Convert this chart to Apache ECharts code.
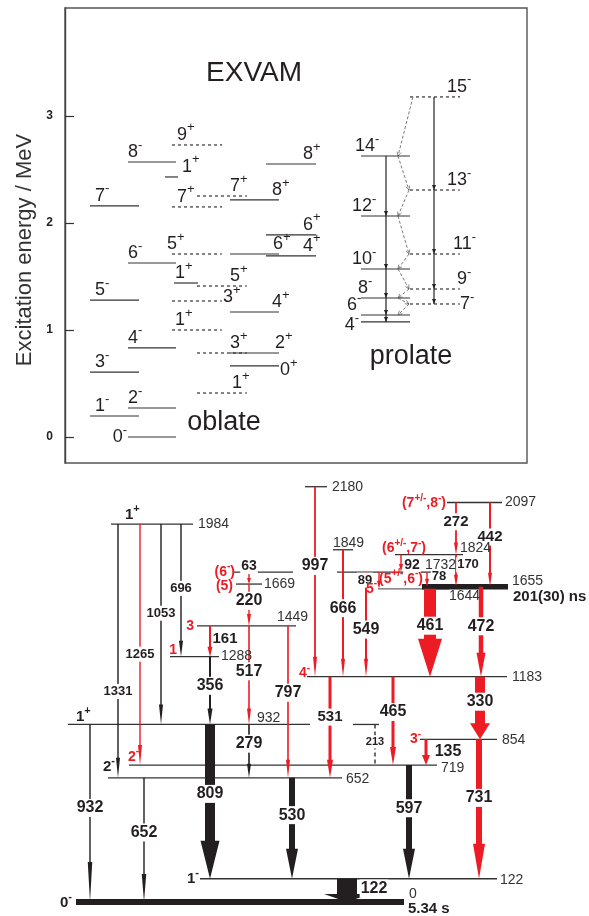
<!DOCTYPE html>
<html><head><meta charset="utf-8">
<script src="https://cdn.jsdelivr.net/npm/echarts@6/dist/echarts.min.js"></script>
<style>html,body{margin:0;padding:0;background:#fff}#c{width:589px;height:916px}</style>
</head><body><div id="c"></div>
<script>
// ================= DATA : top panel (EXVAM calculation, MeV) =================
const energyTicks = [0, 1, 2, 3];
const oblNegOddSpin = ['1-','3-','5-','7-'];
const oblNegOddE = [0.196, 0.607, 1.280, 2.159];
const oblNegEvenSpin = ['0-','2-','4-','6-','8-'];
const oblNegEvenE = [0.000, 0.271, 0.832, 1.626, 2.570];
const oblPosOddASpin = ['1+','3+','5+','7+','9+'];
const oblPosOddAE = [1.000, 1.271, 1.710, 2.150, 2.729];
const oblPosExtraSpin = ['1+','1+'];
const oblPosExtraE = [1.439, 2.430];
const oblPosOddBSpin = ['1+','3+','5+','7+'];
const oblPosOddBE = [0.411, 0.785, 1.411, 2.252];
const oblPosEvenASpin = ['0+','2+','4+','6+','8+'];
const oblPosEvenAE = [0.664, 0.785, 1.168, 1.710, 2.215];
const oblPosEvenBSpin = ['4+','6+','8+'];
const oblPosEvenBE = [1.692, 1.888, 2.551];
const proEvenSpin = ['4-','6-','8-','10-','12-','14-'];
const proEvenE = [1.075, 1.140, 1.299, 1.570, 2.065, 2.626];
const proOddSpin = ['7-','9-','11-','13-','15-'];
const proOddE = [1.243, 1.383, 1.710, 2.308, 3.178];
const proM1Cascade = ['15-','14-','13-','12-','11-','10-','9-','8-','7-','6-'];
const topTexts = ['EXVAM', 'oblate', 'prolate'];
const yAxisTitle = 'Excitation energy / MeV';

// ================= DATA : bottom panel (level scheme, keV) =================
const levelE = [0,122,652,719,854,932,1183,1288,1449,1644,1655,1669,1732,1824,1849,1984,2097,2180];
const levelSpin = ['0-','1-','2-','2-','3-','1+','4-','1','3','5-','(5+/-,6-)','(5)','(6-)','(6+/-,7-)','','1+','(7+/-,8-)',''];
const levelSpinNew = [0,0,0,1,1,0,1,1,1,1,1,1,1,1,0,0,1,0];
const levelHalfLife = ['5.34 s','','','','','','','','','','201(30) ns','','','','','','',''];
const gammaE    = [932,652,1331,1265,1053,696,161,356,809,63,220,517,279,797,530,997,666,549,89,92,78,272,170,442,461,472,531,213,465,135,330,597,731,122];
const gammaFrom = [932,652,1984,1984,1984,1984,1449,1288,932,1732,1669,1449,932,1449,652,2180,1849,1732,1732,1824,1732,2097,1824,2097,1644,1655,1183,932,1183,854,1183,719,854,122];
const gammaTo   = [0,0,652,719,932,1288,1288,932,122,1669,1449,932,652,652,122,1183,1183,1183,1644,1732,1655,1824,1655,1655,1183,1183,652,719,719,719,854,122,122,0];
const gammaNew  = [0,0,0,1,0,0,1,0,0,1,1,1,0,1,0,1,1,1,1,1,1,1,1,1,1,1,1,0,1,1,1,0,1,0];

// ================= LAYOUT / STYLE (not data) =================
const RED = '#ed1c24', BLK = '#231f20';
const FONT = '"Liberation Sans", Arial, Helvetica, sans-serif';

const L = {
  oblNegOdd:  {x:[90,139],  dash:false, lab:[['a',95],['a',95],['a',95],['a',95]]},
  oblNegEven: {x:[128,176], dash:false, lab:[['l',127,0],['a',128],['a',128],['a',128],['a',128]]},
  oblPosOddA: {x:[172,222], dash:true,  lab:[['a',175],['r',223,-4],['a',167],['a',177],['a',177]]},
  oblPosExtra:{xs:[[174,198],[165,178]], dash:false, lab:[['a',175],['a',182]]},
  oblPosOddB: {x:[197,247], dash:true,  lab:[['a',232],['a',230],['a',230],['a',230]]},
  oblPosEvenA:{x:[230,279], dash:false, lab:[['r',280,4],['a',275],['a',272],['a',273],['a',272]]},
  oblPosEvenB:{x:[266,316], dash:false, lab:[['a',303],['a',303],['a',303]]},
  proEven:    {x:[361,410], dash:false, lab:[['l',359,3],['a',347],['a',358],['a',352],['a',352],['a',355]]},
  proOdd:     {x:[410,460], dash:true,  lab:[['r',460,0],['a',457],['a',453],['a',447],['a',447]]}
};
const bands = [
  [oblNegOddSpin, oblNegOddE, L.oblNegOdd],
  [oblNegEvenSpin, oblNegEvenE, L.oblNegEven],
  [oblPosOddASpin, oblPosOddAE, L.oblPosOddA],
  [oblPosExtraSpin, oblPosExtraE, L.oblPosExtra],
  [oblPosOddBSpin, oblPosOddBE, L.oblPosOddB],
  [oblPosEvenASpin, oblPosEvenAE, L.oblPosEvenA],
  [oblPosEvenBSpin, oblPosEvenBE, L.oblPosEvenB],
  [proEvenSpin, proEvenE, L.proEven],
  [proOddSpin, proOddE, L.proOdd]
];
const topLevels = [];
bands.forEach(([sp, en, lay]) => sp.forEach((s, i) => {
  const xr = lay.xs ? lay.xs[i] : lay.x;
  const lb = lay.lab[i];
  topLevels.push({spin:s, E:en[i], x1:xr[0], x2:xr[1], dash:lay.dash, mode:lb[0], lx:lb[1], dy:lb[2]||0});
}));
const proEvenX = 386, proOddX = 434, m1X = {odd:409, even:398, first:413};
const topTextLayout = [[254, 3.40, 28], [224, 0.134, 27], [411, 0.751, 27]];

const levelSegs = [[[76,404]],[[200,497]],[[108,342]],[[129,437]],[[420,497]],[[68,310],[353,379]],[[307,507]],[[170,219]],[[197,296]],[[378,449]],[[422,508]],[[236,262]],[[234,293],[337,442]],[[395,463]],[[333,353]],[[111,193]],[[447,502]],[[305,327]]];
const levelLW = [6,1.3,1.3,1.3,1.3,1.3,1.3,1.3,1.3,1.2,5.5,1.3,1.3,1.3,1.3,1.3,1.3,1.3];
const levelCol = ['#231f20','#333','#333','#333','#333','#333','#333','#333','#333','#666','#231f20','#333','#333','#333','#333','#333','#333','#333'];
const levelLab = [[409,-8],[500,1],[346,1],[441,3],[502,1],[257,-6],[512,1],[221,0],[277,-9],[449,7],[512,-6],[264,0],[425,-7],[460,-6],[333,-7],[198,0],[505,0],[332,0]];
const spinLab = [['right',72,1],['right',199,0],['right',115,-11],['right',139,-8],['right',421,0],['left',76,-8],['right',310,-3],['right',177,-6],['right',194,0],['right',377,0],['center',401,-8],['right',233,2],['right',235,0],['center',404,-6],null,['left',125,-9],['right',446,1],null];
const halfLab = [[408,7],null,null,null,null,null,null,null,null,null,[513,10],null,null,null,null,null,null,null];

const gL = [
 [90,1.4,4.5,40,0.47,16,0],[144,1.4,4.5,28,0.44,16,0],[118,1.4,4,20,0.66,13,0],[140,1.4,4,20,0.54,13,0],
 [161,1.4,4,20,0.445,13,0],[181,1.4,4,16,0.485,13,0],[210,2,5,10,0.41,15,15],[210,2,5,16,0.43,16,0],
 [210,10,19,38,0.45,16,0],[249,1.4,4,6,-0.5,14,0],[249,1.4,4,12,0.40,16,0],[249,1.6,4,16,0.46,16,0],
 [249,1.6,4,14,0.36,16,0],[288,1.6,4,18,0.44,16,0],[292,6,12,30,0.37,16,0],[315,1.8,4,20,0.417,16,0],
 [343,2,4,18,0.46,16,0],[366,2,4,18,0.55,16,0],[379,1.4,4,8,0.48,13,-14],[401,1.4,4,8,0.6,14,11],
 [427,1.4,4,8,0.3,13,12],[456,1.8,4,12,0.37,15,0],[456,1.8,4,12,0.32,13,12],[490,2,4,14,0.41,15,0],
 [430,12,24,38,0.42,16,0],[481,4.5,9,24,0.44,16,0],[330,3,6,18,0.40,15,0],[375,1.3,0,0,0.43,11,0,true],
 [393,3,6,18,0.40,16,0],[426,3,8,10,0.46,16,22],[480,10,20,16,0.40,16,0],[409,6,12,30,0.38,16,0],
 [479,6,12,35,0.42,16,0],[347,20,46,8,0.42,16,27]
];

// ---------- spin label helper: normal text + raised superscript parity ----------
const mctx = document.createElement('canvas').getContext('2d');
function tw(text, size, weight) { mctx.font = weight + ' ' + size + 'px ' + FONT; return mctx.measureText(text).width; }
function spinTexts(str, x, yc, align, size, sup, weight, color) {
  const parts = str.split(/(\+\/-|\+|-)/);
  const toks = []; let total = 0;
  parts.forEach((p, i) => {
    if (!p) return;
    const isSup = i % 2 === 1, fs = isSup ? sup : size, w = tw(p, fs, weight);
    toks.push({p, isSup, fs, w}); total += w;
  });
  let cx = align === 'left' ? x : align === 'right' ? x - total : x - total / 2;
  return toks.map(t => {
    const el = {type:'text', style:{text:t.p, x:cx, y: t.isSup ? yc - 0.38 * size : yc, align:'left', verticalAlign:'middle',
      fontSize:t.fs, fontWeight:weight, fontFamily:FONT, fill:color}};
    cx += t.w; return el;
  });
}

function rTopLevel(params, api) {
  const l = topLevels[params.dataIndex];
  const a = api.coord([l.x1, l.E]), b = api.coord([l.x2, l.E]);
  const lp = api.coord([l.lx, l.E]);
  const size = 18;
  let yc = lp[1] + l.dy, align = 'left';
  if (l.mode === 'a') yc = lp[1] - 4 - 0.345 * size + l.dy;
  else if (l.mode === 'l') align = 'right';
  return {type:'group', children:[
    {type:'line', shape:{x1:a[0], y1:a[1], x2:b[0], y2:b[1]}, style:{stroke:'#333', lineWidth:1.2, lineDash: l.dash ? [3,3] : null}}
  ].concat(spinTexts(l.spin, lp[0], yc, align, size, 13, 'normal', BLK))};
}
function smallHead(x, y, col, w, h) {
  return {type:'polygon', shape:{points:[[x-w/2,y-h],[x+w/2,y-h],[x,y]]}, style:{fill:col}};
}
function rProE2(params, api) {
  const ch = [];
  [[proEvenE, proEvenX], [proOddE, proOddX]].forEach(([en, x]) => {
    for (let i = en.length - 1; i > 0; i--) {
      const a = api.coord([x, en[i]]), b = api.coord([x, en[i-1]]);
      ch.push({type:'line', shape:{x1:a[0], y1:a[1], x2:b[0], y2:b[1]}, style:{stroke:'#222', lineWidth:1.2}});
      ch.push(smallHead(b[0], b[1], '#222', 4, 5));
    }
  });
  return {type:'group', children: ch};
}
function spinE(s) {
  let i = proEvenSpin.indexOf(s); if (i >= 0) return [proEvenE[i], 'even'];
  i = proOddSpin.indexOf(s); return [proOddE[i], 'odd'];
}
function rProM1(params, api) {
  const ch = [];
  for (let k = 0; k < proM1Cascade.length - 1; k++) {
    const [e1, t1] = spinE(proM1Cascade[k]), [e2, t2] = spinE(proM1Cascade[k+1]);
    const a = api.coord([k === 0 ? m1X.first : m1X[t1], e1]), b = api.coord([m1X[t2], e2]);
    ch.push({type:'line', shape:{x1:a[0], y1:a[1], x2:b[0], y2:b[1]}, style:{stroke:'#555', lineWidth:0.8, lineDash:[3,2]}});
    const ang = Math.atan2(b[1]-a[1], b[0]-a[0]);
    const hx = b[0] - 4*Math.cos(ang), hy = b[1] - 4*Math.sin(ang);
    ch.push({type:'polyline', shape:{points:[[hx - 2*Math.sin(ang), hy + 2*Math.cos(ang)], [b[0], b[1]], [hx + 2*Math.sin(ang), hy - 2*Math.cos(ang)]]}, style:{stroke:'#555', lineWidth:0.7, fill:null}});
  }
  return {type:'group', children: ch};
}
function rTopText(params, api) {
  const t = topTextLayout[params.dataIndex];
  const p = api.coord([t[0], t[1]]);
  return {type:'text', style:{text: topTexts[params.dataIndex], x:p[0], y:p[1], align:'center', verticalAlign:'middle', fontSize:t[2], fontFamily:FONT, fill:BLK}};
}

function rLevel(params, api) {
  const i = params.dataIndex, ch = [];
  levelSegs[i].forEach(sg => {
    const a = api.coord([sg[0], levelE[i]]), b = api.coord([sg[1], levelE[i]]);
    ch.push({type:'line', shape:{x1:a[0], y1:a[1], x2:b[0], y2:b[1]}, style:{stroke:levelCol[i], lineWidth:levelLW[i]}});
  });
  return {type:'group', children: ch};
}
function rGamma(params, api) {
  const i = params.dataIndex, g = gL[i];
  const a = api.coord([g[0], gammaFrom[i]]), b = api.coord([g[0], gammaTo[i]]);
  const x = a[0], y1 = a[1], y2 = b[1], col = gammaNew[i] ? RED : BLK;
  if (g[7]) return {type:'line', shape:{x1:x, y1:y1, x2:x, y2:y2}, style:{stroke:col, lineWidth:g[1], lineDash:[4,3]}};
  const w = g[1]/2, hw = g[2]/2, yh = y2 - g[3];
  return {type:'polygon', shape:{points:[[x-w,y1],[x+w,y1],[x+w,yh],[x+hw,yh],[x,y2],[x-hw,yh],[x-w,yh]]}, style:{fill:col}};
}
function rGammaLabel(params, api) {
  const i = params.dataIndex, g = gL[i];
  const a = api.coord([g[0], gammaFrom[i]]), b = api.coord([g[0], gammaTo[i]]);
  const y = a[1] + (b[1] - a[1]) * g[4];
  return {type:'text', style:{text: String(gammaE[i]), x: a[0] + g[6], y: y, align:'center', verticalAlign:'middle',
    fontSize: g[5], fontWeight:'bold', fontFamily: FONT, fill: BLK, backgroundColor:'#fff', padding:[1,1]}};
}
function rLevelLabel(params, api) {
  const i = params.dataIndex;
  let ch = [];
  const ll = levelLab[i], p = api.coord([ll[0], levelE[i]]);
  ch.push({type:'text', style:{text: String(levelE[i]), x:p[0], y:p[1] + ll[1], align:'left', verticalAlign:'middle', fontSize:14, fontFamily:FONT, fill:'#333'}});
  if (levelSpin[i] && spinLab[i]) {
    const s = spinLab[i], q = api.coord([s[1], levelE[i]]);
    ch = ch.concat(levelSpinNew[i]
      ? spinTexts(levelSpin[i], q[0], q[1] + s[2], s[0], 14, 10, 'bold', RED)
      : spinTexts(levelSpin[i], q[0], q[1] + s[2], s[0], 15, 11, 'bold', BLK));
  }
  if (levelHalfLife[i] && halfLab[i]) {
    const h = halfLab[i], r = api.coord([h[0], levelE[i]]);
    ch.push({type:'text', style:{text: levelHalfLife[i], x:r[0], y:r[1] + h[1], align:'left', verticalAlign:'middle', fontSize:15, fontWeight:'bold', fontFamily:FONT, fill:BLK}});
  }
  return {type:'group', children: ch};
}

const chart = echarts.init(document.getElementById('c'), null, {renderer:'canvas'});
const yMinB = -70, yMaxB = 2250, sB = 0.1905;
chart.setOption({
  animation: false,
  backgroundColor: '#fff',
  graphic: [{type:'text', x:25, y:250, rotation: Math.PI/2,
    style:{text: yAxisTitle, align:'center', verticalAlign:'middle', fontSize:22, fontFamily:FONT, fill:'#333'}}],
  grid: [
    {left:65, top:8, width:462, height:455, show:true, borderColor:'#555', borderWidth:1.4, backgroundColor:'transparent'},
    {left:0, top: 902 - sB*yMaxB, width:589, height: sB*(yMaxB - yMinB)}
  ],
  xAxis: [
    {gridIndex:0, type:'value', min:65, max:527, show:false},
    {gridIndex:1, type:'value', min:0, max:589, show:false}
  ],
  yAxis: [
    {gridIndex:0, type:'value', min:-0.243, max:4.009,
     axisLine:{show:true, lineStyle:{color:'#444', width:1.4}},
     axisTick:{show:true, inside:true, length:9, customValues: energyTicks, lineStyle:{color:'#333', width:1.2}},
     axisLabel:{customValues: energyTicks, margin:12, fontSize:12, fontWeight:'bold', fontFamily:FONT, color:'#222'},
     splitLine:{show:false}},
    {gridIndex:1, type:'value', min:yMinB, max:yMaxB, show:false}
  ],
  series: [
    {type:'custom', xAxisIndex:0, yAxisIndex:0, z:2, renderItem:rTopLevel, data: topLevels.map(l => [l.x1, l.E])},
    {type:'custom', xAxisIndex:0, yAxisIndex:0, z:3, renderItem:rProE2, data:[[proEvenX, proEvenE[0]]]},
    {type:'custom', xAxisIndex:0, yAxisIndex:0, z:3, renderItem:rProM1, data:[[m1X.even, proOddE[0]]]},
    {type:'custom', xAxisIndex:0, yAxisIndex:0, z:3, renderItem:rTopText, data: topTextLayout.map(t => [t[0], t[1]])},
    {type:'custom', xAxisIndex:1, yAxisIndex:1, z:2, renderItem:rLevel, data: levelE.map((e,i) => [levelSegs[i][0][0], e])},
    {type:'custom', xAxisIndex:1, yAxisIndex:1, z:3, renderItem:rGamma, data: gammaE.map((e,i) => [gL[i][0], gammaFrom[i]])},
    {type:'custom', xAxisIndex:1, yAxisIndex:1, z:4, renderItem:rGammaLabel, data: gammaE.map((e,i) => [gL[i][0], gammaFrom[i]])},
    {type:'custom', xAxisIndex:1, yAxisIndex:1, z:5, renderItem:rLevelLabel, data: levelE.map((e,i) => [levelLab[i][0], e])}
  ]
});
</script></body></html>
